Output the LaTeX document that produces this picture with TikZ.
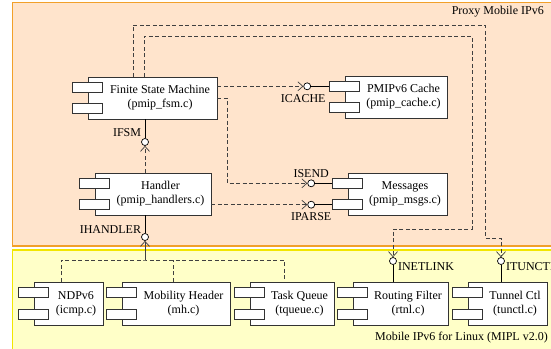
\documentclass[tikz,border=0pt]{standalone}
\usepackage{fontspec}
\setmainfont{Liberation Serif}
\usetikzlibrary{arrows.meta,calc}

\definecolor{pmipfill}{HTML}{FFE4CC}
\definecolor{pmipline}{HTML}{F2A02A}
\definecolor{miplfill}{HTML}{FFFFC8}
\definecolor{miplline}{HTML}{F2E600}

\tikzset{
  lbl/.style={font=\fontsize{12}{14}\selectfont, inner sep=1pt},
  comp/.style={draw=black!80, line width=0.8pt, fill=white, minimum height=42pt, inner sep=0pt,
    label={[xshift=7.5pt, align=center, lbl]center:{#1}}},
  port/.style={draw=black!80, line width=0.8pt, fill=white, minimum width=30pt, minimum height=10pt, inner sep=0pt},
  iface/.style={circle, draw=black, fill=white, line width=0.7pt, minimum size=7pt, inner sep=0pt},
  dep/.style={draw=black!75, line width=0.7pt, dash pattern=on 4pt off 2.5pt},
  req/.style={dep, -{Straight Barb[length=5pt, width=9pt]}},
  pmippanel/.style={fill=pmipfill, draw=pmipline, line width=1.2pt},
  miplpanel/.style={fill=miplfill, draw=miplline, line width=1.5pt},
}

\begin{document}
\begin{tikzpicture}[x=1pt, y=-1pt]
  \clip (0,0) rectangle (551,348);
  % panels
  \draw[pmippanel] (12.5,2.5) rectangle (570,246);
  \draw[miplpanel] (12.5,250) rectangle (570,360);
  \node[lbl, anchor=east] (pmiptitle) at (545,12) {Proxy Mobile IPv6};
  \node[lbl, anchor=east] (mipltitle) at (549,338) {Mobile IPv6 for Linux (MIPL v2.0)};

  % proxy mobile ipv6 parts
  \node[comp={Finite State Machine\\(pmip\_fsm.c)}, minimum width=129pt] (fsm) at (152.5,98) {};
  \node[comp={Handler\\(pmip\_handlers.c)}, minimum width=116pt] (handler) at (153,194) {};
  \node[comp={PMIPv6 Cache\\(pmip\_cache.c)}, minimum width=102pt] (cache) at (396,97) {};
  \node[comp={Messages\\(pmip\_msgs.c)}, minimum width=99pt] (msgs) at (397.5,194) {};

  % mipl parts
  \node[comp={NDPv6\\(icmp.c)}, minimum width=69pt, minimum height=43pt] (ndp) at (68.5,303.5) {};
  \node[comp={Mobility Header\\(mh.c)}, minimum width=108pt, minimum height=43pt] (mh) at (176,303.5) {};
  \node[comp={Task Queue\\(tqueue.c)}, minimum width=84pt, minimum height=43pt] (tq) at (292,303.5) {};
  \node[comp={Routing Filter\\(rtnl.c)}, minimum width=95pt, minimum height=43pt] (rtnl) at (400.5,303.5) {};
  \node[comp={Tunnel Ctl\\(tunctl.c)}, minimum width=79pt, minimum height=43pt] (tun) at (507.5,303.5) {};

  \foreach \c in {fsm,handler,cache,msgs,ndp,mh,tq,rtnl,tun} {
    \node[port] (\c-a) at ($(\c.north west)!0.25!(\c.south west)$) {};
    \node[port] (\c-b) at ($(\c.north west)!0.75!(\c.south west)$) {};
  }

  % interfaces
  \node[iface, label={[lbl, xshift=-4pt, yshift=-3pt]below:ICACHE}] (icache) at ($(cache-a.west)+(-22,0)$) {};
  \node[iface, label={[lbl, yshift=1pt]above:ISEND}] (isend) at ($(msgs-a.west)+(-21,0)$) {};
  \node[iface, label={[lbl, yshift=-3pt]below:IPARSE}] (iparse) at ($(msgs-b.west)+(-21,0)$) {};
  \node[iface, label={[lbl, yshift=1pt]above left:IFSM}] (ifsm) at (145,142) {};
  \node[iface, label={[lbl]above left:IHANDLER}] (ihandler) at (145,237) {};
  \node[iface, label={[lbl, anchor=west, yshift=-6pt]east:INETLINK}] (inet) at (393,261) {};
  \node[iface, label={[lbl, anchor=west, yshift=-6pt]east:ITUNCTL}] (itun) at (501,261) {};
  \coordinate (hjoin) at (145,260);

  % provided
  \draw[line width=0.7pt] (icache) -- (cache-a);
  \draw[line width=0.7pt] (isend) -- (msgs-a);
  \draw[line width=0.7pt] (iparse) -- (msgs-b);
  \draw[line width=0.7pt] (fsm.south -| ifsm) -- (ifsm);
  \draw[line width=0.7pt] (handler.south -| ihandler) -- (ihandler);
  \draw[line width=0.7pt] (inet) -- (inet |- rtnl.north);
  \draw[line width=0.7pt] (itun) -- (itun |- tun.north);

  % required
  \draw[req] (fsm.east |- icache) -- (icache);
  \draw[req] (fsm.east) -- ++(10,0) |- (isend);
  \draw[req] (handler.east |- iparse) -- (iparse);
  \draw[req] (handler.north -| ifsm) -- (ifsm);
  \draw[req] ([xshift=-19.5pt]fsm.north) |- (485,25) -- (485,238) -| (itun);
  \draw[req] ([xshift=-8.5pt]fsm.north) |- (472,36) -- (472,229) -| (inet);
  \draw[dep] ([xshift=-7.5pt]ndp.north) |- (hjoin) -| ([xshift=-8pt]tq.north);
  \draw[dep] ([xshift=-3pt]mh.north) -- ([xshift=-3pt]mh.north |- hjoin);
  \draw[req, solid] (hjoin) -- (ihandler);
\end{tikzpicture}
\end{document}
